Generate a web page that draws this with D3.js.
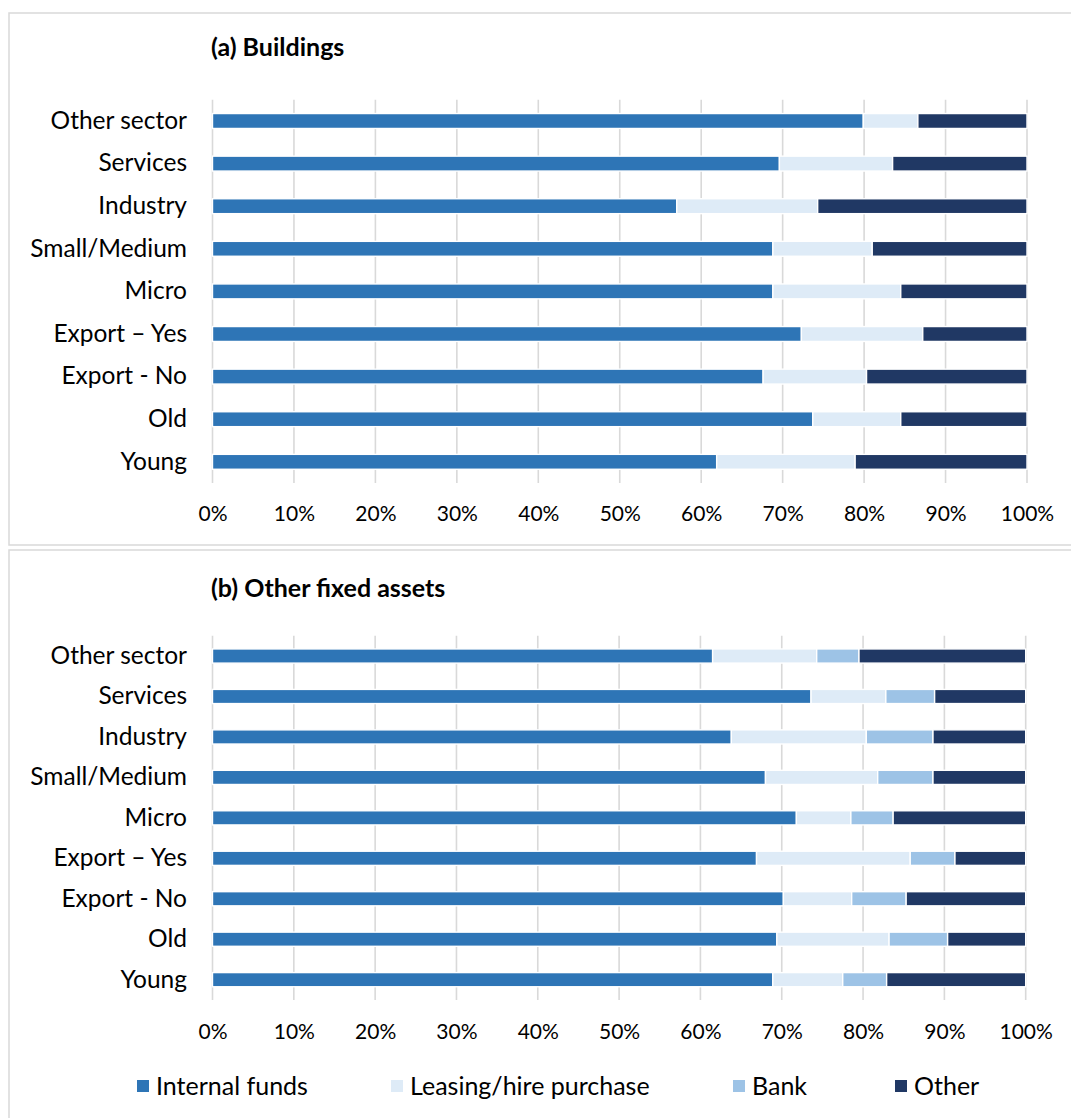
<!DOCTYPE html>
<html>
<head>
<meta charset="utf-8">
<script src="https://cdn.jsdelivr.net/npm/d3@7"></script>
<style>
  body { margin: 0; background: #fff; }
  text { font-family: Lato, "Open Sans", sans-serif; fill: #000; }
</style>
</head>
<body>
<div id="chart"></div>
<script>
// categories, top to bottom
let categories = ["Other sector", "Services", "Industry", "Small/Medium", "Micro",
                  "Export \u2013 Yes", "Export - No", "Old", "Young"];
let seriesNames = ["Internal funds", "Leasing/hire purchase", "Bank", "Other"];
let seriesColors = ["#2E75B6", "#DEEBF7", "#9DC3E6", "#203864"];
let tickValues = [0, 0.1, 0.2, 0.3, 0.4, 0.5, 0.6, 0.7, 0.8, 0.9, 1];

// (a) Buildings, percent
let internalA = [79.9, 69.6, 57.0, 68.8, 68.8, 72.3, 67.6, 73.7, 61.9];
let leasingA  = [6.7, 13.9, 17.3, 12.2, 15.7, 14.9, 12.7, 10.8, 17.0];
let bankA     = [0, 0, 0, 0, 0, 0, 0, 0, 0];
let otherA    = [13.4, 16.5, 25.7, 19.0, 15.5, 12.8, 19.7, 15.5, 21.1];

// (b) Other fixed assets, percent
let internalB = [61.5, 73.6, 63.8, 68.0, 71.8, 66.9, 70.2, 69.4, 68.9];
let leasingB  = [12.8, 9.2, 16.6, 13.8, 6.7, 18.9, 8.4, 13.8, 8.6];
let bankB     = [5.2, 6.0, 8.2, 6.8, 5.2, 5.5, 6.7, 7.2, 5.4];
let otherB    = [20.5, 11.2, 11.4, 11.4, 16.3, 8.7, 14.7, 9.6, 17.1];

let svgWidth = 1071;
let svgHeight = 1118;

let svg = d3.select("#chart")
  .append("svg")
  .attr("width", svgWidth)
  .attr("height", svgHeight);

function makeRows(internal, leasing, bank, other) {
  return categories.map((c, i) => ({
    cat: c,
    "Internal funds": internal[i],
    "Leasing/hire purchase": leasing[i],
    "Bank": bank[i],
    "Other": other[i]
  }));
}

function drawPanel(opts) {
  // panel frame
  svg.append("rect")
    .attr("x", opts.frame[0]).attr("y", opts.frame[1])
    .attr("width", opts.frame[2]).attr("height", opts.frame[3])
    .attr("fill", "none")
    .attr("stroke", "#D9D9D9")
    .attr("stroke-width", 1.5);

  svg.append("text")
    .attr("x", 211)
    .attr("y", opts.titleY)
    .attr("dy", "0.35em")
    .attr("font-size", "25px")
    .attr("font-weight", "bold")
    .text(opts.title);

  let x = d3.scaleLinear().domain([0, 1]).range([opts.x0, opts.x1]);
  let y = d3.scaleBand()
    .domain(categories)
    .range([opts.top, opts.bottom])
    .paddingInner(0.65)
    .paddingOuter(0.325);

  // vertical gridlines
  svg.append("g")
    .selectAll("line")
    .data(tickValues)
    .enter().append("line")
    .attr("x1", d => x(d)).attr("x2", d => x(d))
    .attr("y1", opts.top).attr("y2", opts.bottom)
    .attr("stroke", "#D9D9D9")
    .attr("stroke-width", 1.6);

  // x axis labels (no line, no ticks)
  let bottomAxis = d3.axisBottom(x)
    .tickValues(tickValues)
    .tickFormat(d3.format(".0%"))
    .tickSize(0)
    .tickPadding(0);
  let xAxis = svg.append("g")
    .attr("transform", `translate(0, ${opts.tickY})`)
    .call(bottomAxis);
  xAxis.select(".domain").remove();
  xAxis.selectAll("text")
    .attr("dy", "0.35em")
    .attr("y", 0)
    .attr("font-size", "21px")
    .attr("font-family", "Lato, sans-serif");

  // y axis labels
  let leftAxis = d3.axisLeft(y).tickSize(0).tickPadding(0);
  let yAxis = svg.append("g")
    .attr("transform", `translate(${opts.labelX}, 0)`)
    .call(leftAxis);
  yAxis.select(".domain").remove();
  yAxis.selectAll("text")
    .attr("font-size", "24.5px")
    .attr("font-family", "Lato, sans-serif");

  let stacked = d3.stack().keys(seriesNames)(opts.rows);
  svg.append("g")
    .selectAll("g")
    .data(stacked)
    .enter().append("g")
    .attr("fill", (d, i) => seriesColors[i])
    .selectAll("rect")
    .data(d => d)
    .enter().append("rect")
    .attr("x", d => x(d[0] / 100))
    .attr("y", d => y(d.data.cat))
    .attr("width", d => Math.max(0, x(d[1] / 100) - x(d[0] / 100)))
    .attr("height", y.bandwidth())
    .attr("stroke", "#fff")
    .attr("stroke-width", d => (d[1] - d[0]) > 0 ? 1.4 : 0);
}

drawPanel({
  frame: [9, 13, 1100, 532],
  title: "(a) Buildings",
  titleY: 47,
  x0: 212.5, x1: 1027,
  top: 99.7, bottom: 483.1,
  tickY: 514,
  labelX: 187,
  rows: makeRows(internalA, leasingA, bankA, otherA)
});

drawPanel({
  frame: [9, 550, 1100, 600],
  title: "(b) Other fixed assets",
  titleY: 588,
  x0: 212.5, x1: 1025.7,
  top: 635.8, bottom: 999.9,
  tickY: 1032,
  labelX: 187,
  rows: makeRows(internalB, leasingB, bankB, otherB)
});

// legend
let legendX = [137, 391, 733, 895];
let legend = svg.append("g")
  .selectAll("g")
  .data(seriesNames)
  .enter().append("g")
  .attr("transform", (d, i) => `translate(${legendX[i]}, 1086)`);

legend.append("rect")
  .attr("x", 0).attr("y", -6)
  .attr("width", 12).attr("height", 12)
  .attr("fill", (d, i) => seriesColors[i]);

legend.append("text")
  .attr("x", 19)
  .attr("dy", "0.35em")
  .attr("font-size", "25px")
  .text(d => d);
</script>
</body>
</html>
